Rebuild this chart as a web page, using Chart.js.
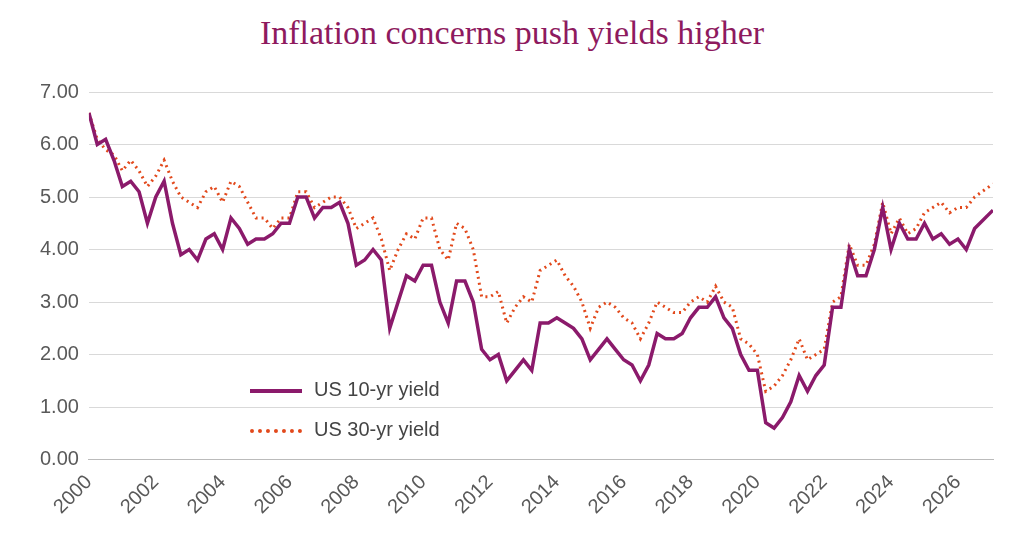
<!DOCTYPE html>
<html><head><meta charset="utf-8">
<script src="https://cdn.jsdelivr.net/npm/chart.js@4"></script>
<style>
body{margin:0;background:#fff;width:1024px;height:541px;overflow:hidden;font-family:Arial,"Liberation Sans",sans-serif}
#t{position:absolute;top:14px;left:0;width:1024px;text-align:center;font-family:"Liberation Serif",serif;font-size:34px;color:#8E1A5E}
#wrap{position:absolute;left:0;top:70px;width:1010px;height:471px}
.lg{position:absolute;left:250px;font-size:20px;color:#444}
.lg span{display:inline-block;width:52px;margin-right:12px;vertical-align:middle}
</style></head><body>
<div id="t">Inflation concerns push yields higher</div>
<div id="wrap"><canvas id="c"></canvas></div>
<div class="lg" style="top:378px"><span style="border-top:4px solid #8B1A6B"></span>US 10-yr yield</div>
<div class="lg" style="top:418px"><span style="border-top:4px dotted #E2491C"></span>US 30-yr yield</div>
<script>
const startYear = 2000;
const tenYr = [6.6,6.0,6.1,5.7, 5.2,5.3,5.1,4.5, 5.0,5.3,4.5,3.9, 4.0,3.8,4.2,4.3, 4.0,4.6,4.4,4.1, 4.2,4.2,4.3,4.5, 4.5,5.0,5.0,4.6, 4.8,4.8,4.9,4.5, 3.7,3.8,4.0,3.8, 2.5,3.0,3.5,3.4, 3.7,3.7,3.0,2.6, 3.4,3.4,3.0,2.1, 1.9,2.0,1.5,1.7, 1.9,1.7,2.6,2.6, 2.7,2.6,2.5,2.3, 1.9,2.1,2.3,2.1, 1.9,1.8,1.5,1.8, 2.4,2.3,2.3,2.4, 2.7,2.9,2.9,3.1, 2.7,2.5,2.0,1.7, 1.7,0.7,0.6,0.8, 1.1,1.6,1.3,1.6, 1.8,2.9,2.9,4.0, 3.5,3.5,4.0,4.8, 4.0,4.5,4.2,4.2, 4.5,4.2,4.3,4.1, 4.2,4.0,4.4,4.75];
const thirtyYr = [6.6,6.1,5.9,5.8, 5.5,5.7,5.5,5.2, 5.4,5.7,5.3,5.0, 4.9,4.8,5.1,5.2, 4.9,5.3,5.2,4.9, 4.6,4.6,4.4,4.6, 4.6,5.1,5.1,4.8, 4.9,5.0,5.0,4.8, 4.4,4.5,4.6,4.2, 3.6,4.0,4.3,4.2, 4.6,4.6,4.0,3.8, 4.5,4.4,4.0,3.1, 3.1,3.2,2.6,2.9, 3.1,3.0,3.6,3.7, 3.8,3.5,3.3,3.0, 2.5,2.9,3.0,2.9, 2.7,2.6,2.3,2.6, 3.0,2.9,2.8,2.8, 3.0,3.1,3.0,3.3, 3.0,2.9,2.3,2.2, 2.0,1.3,1.4,1.6, 1.9,2.3,1.9,2.0, 2.1,3.0,3.1,4.1, 3.7,3.7,4.1,4.9, 4.3,4.6,4.3,4.4, 4.7,4.8,4.9,4.7, 4.8,4.8,5.0,5.25];
const yTicks = [0,1,2,3,4,5,6,7];
const xTicks = [2000,2002,2004,2006,2008,2010,2012,2014,2016,2018,2020,2022,2024,2026];
const xs = tenYr.map((_,i)=> i===tenYr.length-1 ? 2027.05 : startYear + i*0.25);
new Chart(document.getElementById('c'),{
 type:'line',
 data:{datasets:[
  {label:'US 10-yr yield',data:tenYr.map((v,i)=>({x:xs[i],y:v})),borderColor:'#8B1A6B',borderWidth:3.5,pointRadius:0,tension:0},
  {label:'US 30-yr yield',data:thirtyYr.map((v,i)=>({x:xs[i],y:v})),borderColor:'#E2491C',borderWidth:3,borderDash:[2,4],pointRadius:0,tension:0}
 ]},
 options:{responsive:true,maintainAspectRatio:false,animation:false,
  layout:{padding:{top:14,right:17,left:30,bottom:19}},
  plugins:{legend:{display:false},tooltip:{enabled:false}},
  scales:{
   x:{type:'linear',min:2000,max:2027.05,
     afterBuildTicks:a=>{a.ticks=xTicks.map(v=>({value:v}));},
     grid:{display:false,drawTicks:true},border:{color:'#bbb'},
     ticks:{color:'#595959',font:{size:20},maxRotation:45,minRotation:45,callback:v=>String(v)}},
   y:{min:0,max:7,afterBuildTicks:a=>{a.ticks=yTicks.map(v=>({value:v}));},
     grid:{color:'#d9d9d9',drawTicks:false},border:{display:false},
     ticks:{color:'#595959',font:{size:20},padding:10,callback:v=>v.toFixed(2)}}
  }}
});
</script></body></html>
